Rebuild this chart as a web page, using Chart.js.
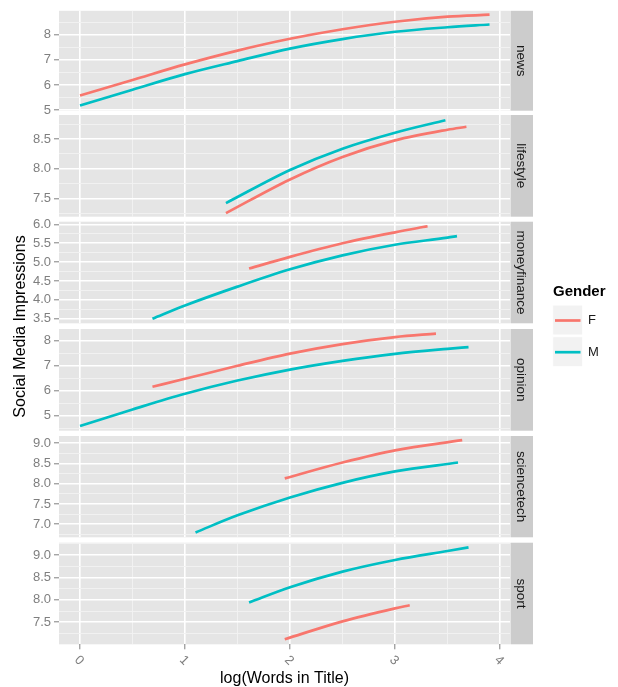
<!DOCTYPE html>
<html><head><meta charset="utf-8">
<script src="https://cdn.jsdelivr.net/npm/chart.js@4"></script>
<style>
html,body{margin:0;padding:0;background:#fff;width:618px;height:687px;overflow:hidden}
canvas{position:absolute;left:0;top:0}
</style></head>
<body>
<script>
// ---------- data ----------
const panels = ['news','lifestyle','moneyfinance','opinion','sciencetech','sport'];
const genders = ['F','M'];
const genderColors = ['#F8766D','#00BFC4'];

const xMajor = [0,1,2,3,4];
const xMajorLabels = ['0','1','2','3','4'];
const xMinor = [0.5,1.5,2.5,3.5];
const xRange = [-0.2, 4.095];

const newsF_x = [0, 0.5, 1, 1.5, 2, 2.5, 3, 3.5, 3.9];
const newsF_y = [5.58, 6.20, 6.82, 7.37, 7.84, 8.22, 8.52, 8.72, 8.80];
const newsM_x = [0, 0.5, 1, 1.5, 2, 2.5, 3, 3.5, 3.9];
const newsM_y = [5.18, 5.81, 6.43, 6.95, 7.45, 7.83, 8.12, 8.30, 8.41];

const lifestyleF_x = [1.39, 2, 2.5, 3, 3.5, 3.68];
const lifestyleF_y = [7.25, 7.82, 8.20, 8.48, 8.66, 8.71];
const lifestyleM_x = [1.39, 2, 2.5, 3, 3.48];
const lifestyleM_y = [7.42, 7.98, 8.34, 8.61, 8.82];

const moneyF_x = [1.61, 2, 2.5, 3, 3.31];
const moneyF_y = [4.83, 5.14, 5.50, 5.79, 5.95];
const moneyM_x = [0.69, 1, 1.5, 2, 2.5, 3, 3.5, 3.59];
const moneyM_y = [3.50, 3.85, 4.35, 4.81, 5.18, 5.46, 5.65, 5.69];

const opinionF_x = [0.69, 1, 1.5, 2, 2.5, 3, 3.39];
const opinionF_y = [6.16, 6.48, 7.00, 7.49, 7.87, 8.15, 8.29];
const opinionM_x = [0, 0.5, 1, 1.5, 2, 2.5, 3, 3.5, 3.70];
const opinionM_y = [4.59, 5.25, 5.88, 6.41, 6.85, 7.20, 7.48, 7.68, 7.75];

const scienceF_x = [1.95, 2.5, 3, 3.64];
const scienceF_y = [8.13, 8.52, 8.82, 9.07];
const scienceM_x = [1.10, 1.5, 2, 2.5, 3, 3.60];
const scienceM_y = [6.80, 7.22, 7.66, 8.02, 8.30, 8.52];

const sportF_x = [1.95, 2.5, 3, 3.14];
const sportF_y = [7.12, 7.52, 7.81, 7.88];
const sportM_x = [1.61, 2, 2.5, 3, 3.5, 3.70];
const sportM_y = [7.94, 8.28, 8.63, 8.89, 9.09, 9.17];

const newsTicks = [5, 6, 7, 8];
const newsTickLabels = ['5','6','7','8'];
const newsMinor = [5.5, 6.5, 7.5, 8.5];
const newsRange = [4.974, 8.956];

const lifestyleTicks = [7.5, 8.0, 8.5];
const lifestyleTickLabels = ['7.5','8.0','8.5'];
const lifestyleMinor = [7.25, 7.75, 8.25, 8.75];
const lifestyleRange = [7.19, 8.909];

const moneyTicks = [3.5, 4.0, 4.5, 5.0, 5.5, 6.0];
const moneyTickLabels = ['3.5','4.0','4.5','5.0','5.5','6.0'];
const moneyMinor = [3.75, 4.25, 4.75, 5.25, 5.75];
const moneyRange = [3.378, 6.071];

const opinionTicks = [5, 6, 7, 8];
const opinionTickLabels = ['5','6','7','8'];
const opinionMinor = [4.5, 5.5, 6.5, 7.5];
const opinionRange = [4.40, 8.475];

const scienceTicks = [7.0, 7.5, 8.0, 8.5, 9.0];
const scienceTickLabels = ['7.0','7.5','8.0','8.5','9.0'];
const scienceMinor = [6.75, 7.25, 7.75, 8.25, 8.75];
const scienceRange = [6.68, 9.172];

const sportTicks = [7.5, 8.0, 8.5, 9.0];
const sportTickLabels = ['7.5','8.0','8.5','9.0'];
const sportMinor = [7.25, 7.75, 8.25, 8.75, 9.25];
const sportRange = [7.007, 9.276];

const seriesX = [[newsF_x,newsM_x],[lifestyleF_x,lifestyleM_x],[moneyF_x,moneyM_x],[opinionF_x,opinionM_x],[scienceF_x,scienceM_x],[sportF_x,sportM_x]];
const seriesY = [[newsF_y,newsM_y],[lifestyleF_y,lifestyleM_y],[moneyF_y,moneyM_y],[opinionF_y,opinionM_y],[scienceF_y,scienceM_y],[sportF_y,sportM_y]];
const yTicks = [newsTicks,lifestyleTicks,moneyTicks,opinionTicks,scienceTicks,sportTicks];
const yTickLabels = [newsTickLabels,lifestyleTickLabels,moneyTickLabels,opinionTickLabels,scienceTickLabels,sportTickLabels];
const yMinor = [newsMinor,lifestyleMinor,moneyMinor,opinionMinor,scienceMinor,sportMinor];
const yRanges = [newsRange,lifestyleRange,moneyRange,opinionRange,scienceRange,sportRange];

// ---------- layout ----------
const W = 618, H = 687;
const panelTops = [9, 115, 221.7, 329, 436, 542.7];
const panelBottoms = [110.7, 216.7, 323.3, 430.7, 537.3, 644.3];
const plotLeft = 59, plotRight = 510;
const FONT = '"Liberation Sans", Arial, Helvetica, sans-serif';
Chart.defaults.font.family = FONT;

const near = (arr, v) => arr.some(a => Math.abs(a - v) < 1e-6);

const panelDeco = {
  id: 'panelDeco',
  beforeDraw(chart, args, opts) {
    const {ctx, chartArea: a} = chart;
    ctx.save();
    ctx.fillStyle = '#E5E5E5';
    ctx.fillRect(a.left, a.top, a.right - a.left, a.bottom - a.top);
    ctx.fillStyle = '#CCCCCC';
    ctx.fillRect(a.right + 0.5, a.top, 22.5, a.bottom - a.top);
    ctx.translate(a.right + 10.5, (a.top + a.bottom) / 2);
    ctx.rotate(Math.PI / 2);
    ctx.fillStyle = '#1A1A1A';
    ctx.font = '13.5px ' + FONT;
    ctx.textAlign = 'center';
    ctx.textBaseline = 'middle';
    ctx.fillText(opts.label, 0, 0);
    ctx.restore();
  }
};

const extras = {
  id: 'extras',
  afterDraw(chart) {
    const ctx = chart.ctx;
    const xs = chart.scales.x;
    ctx.save();
    // rotated x tick labels
    ctx.fillStyle = '#7F7F7F';
    ctx.font = '13px ' + FONT;
    ctx.textAlign = 'center';
    ctx.textBaseline = 'middle';
    xMajor.forEach((v, i) => {
      const px = xs.getPixelForValue(v);
      ctx.save();
      ctx.translate(px - 1, 660.5);
      ctx.rotate(Math.PI / 4);
      ctx.fillText(xMajorLabels[i], 0, 0);
      ctx.restore();
    });
    // y title
    ctx.save();
    ctx.fillStyle = '#000';
    ctx.font = '16px ' + FONT;
    ctx.translate(21, 326.5);
    ctx.rotate(-Math.PI / 2);
    ctx.fillText('Social Media Impressions', 0, 0);
    ctx.restore();
    // legend
    ctx.fillStyle = '#000';
    ctx.textAlign = 'left';
    ctx.textBaseline = 'alphabetic';
    ctx.font = 'bold 15px ' + FONT;
    ctx.fillText('Gender', 553, 296);
    genders.forEach((g, i) => {
      const by = 305 + i * 31.7;
      ctx.fillStyle = '#F2F2F2';
      ctx.fillRect(552.7, by, 30, 30);
      ctx.strokeStyle = '#FFFFFF';
      ctx.lineWidth = 1;
      ctx.strokeRect(552.7, by, 30, 30);
      ctx.strokeStyle = genderColors[i];
      ctx.lineWidth = 2.7;
      ctx.beginPath();
      ctx.moveTo(555, by + 15.5);
      ctx.lineTo(580.5, by + 15.5);
      ctx.stroke();
      ctx.fillStyle = '#1A1A1A';
      ctx.font = '13px ' + FONT;
      ctx.textBaseline = 'middle';
      ctx.fillText(g, 588, by + 15.5);
    });
    ctx.restore();
  }
};

panels.forEach((name, i) => {
  const c = document.createElement('canvas');
  c.width = W; c.height = H;
  document.body.appendChild(c);
  const isLast = i === panels.length - 1;
  const datasets = genders.map((g, k) => ({
    label: g,
    data: seriesX[i][k].map((x, j) => ({x: x, y: seriesY[i][k][j]})),
    borderColor: genderColors[k],
    backgroundColor: genderColors[k],
    borderWidth: 2.7,
    pointRadius: 0,
    fill: false,
    cubicInterpolationMode: 'monotone'
  }));
  const allY = yTicks[i].concat(yMinor[i]).sort((a, b) => a - b);
  const allX = xMajor.concat(xMinor).sort((a, b) => a - b);
  new Chart(c, {
    type: 'line',
    data: {datasets},
    options: {
      responsive: false,
      animation: false,
      devicePixelRatio: 1,
      events: [],
      layout: {padding: {left: 0, right: W - plotRight, top: panelTops[i], bottom: isLast ? 0 : H - panelBottoms[i]}},
      plugins: {legend: {display: false}, tooltip: {enabled: false}, panelDeco: {label: name}},
      scales: {
        x: {
          type: 'linear', min: xRange[0], max: xRange[1],
          afterBuildTicks: s => { s.ticks = allX.map(v => ({value: v})); },
          afterFit: s => { s.height = isLast ? H - panelBottoms[i] : 0; },
          border: {display: false},
          grid: {
            color: ctx => near(xMajor, ctx.tick.value) ? '#FFFFFF' : '#F2F2F2',
            lineWidth: ctx => near(xMajor, ctx.tick.value) ? 1.6 : 0.9,
            drawTicks: isLast, tickLength: 5, tickWidth: 1,
            tickColor: ctx => near(xMajor, ctx.tick.value) ? '#7F7F7F' : 'rgba(0,0,0,0)'
          },
          ticks: {display: false},
          title: {display: isLast, text: 'log(Words in Title)', color: '#000',
                  font: {size: 16, lineHeight: 1}, padding: {top: 0, bottom: 0}}
        },
        y: {
          type: 'linear', min: yRanges[i][0], max: yRanges[i][1],
          afterBuildTicks: s => { s.ticks = allY.map(v => ({value: v})); },
          afterFit: s => { s.width = plotLeft; },
          border: {display: false},
          grid: {
            color: ctx => near(yTicks[i], ctx.tick.value) ? '#FFFFFF' : '#F2F2F2',
            lineWidth: ctx => near(yTicks[i], ctx.tick.value) ? 1.6 : 0.9,
            tickLength: 5, tickWidth: 1,
            tickColor: ctx => near(yTicks[i], ctx.tick.value) ? '#7F7F7F' : 'rgba(0,0,0,0)'
          },
          ticks: {
            autoSkip: false, color: '#7F7F7F', font: {size: 13}, padding: 3,
            callback: v => { const k = yTicks[i].findIndex(t => Math.abs(t - v) < 1e-6); return k >= 0 ? yTickLabels[i][k] : ''; }
          }
        }
      }
    },
    plugins: isLast ? [panelDeco, extras] : [panelDeco]
  });
});
</script>
</body></html>
